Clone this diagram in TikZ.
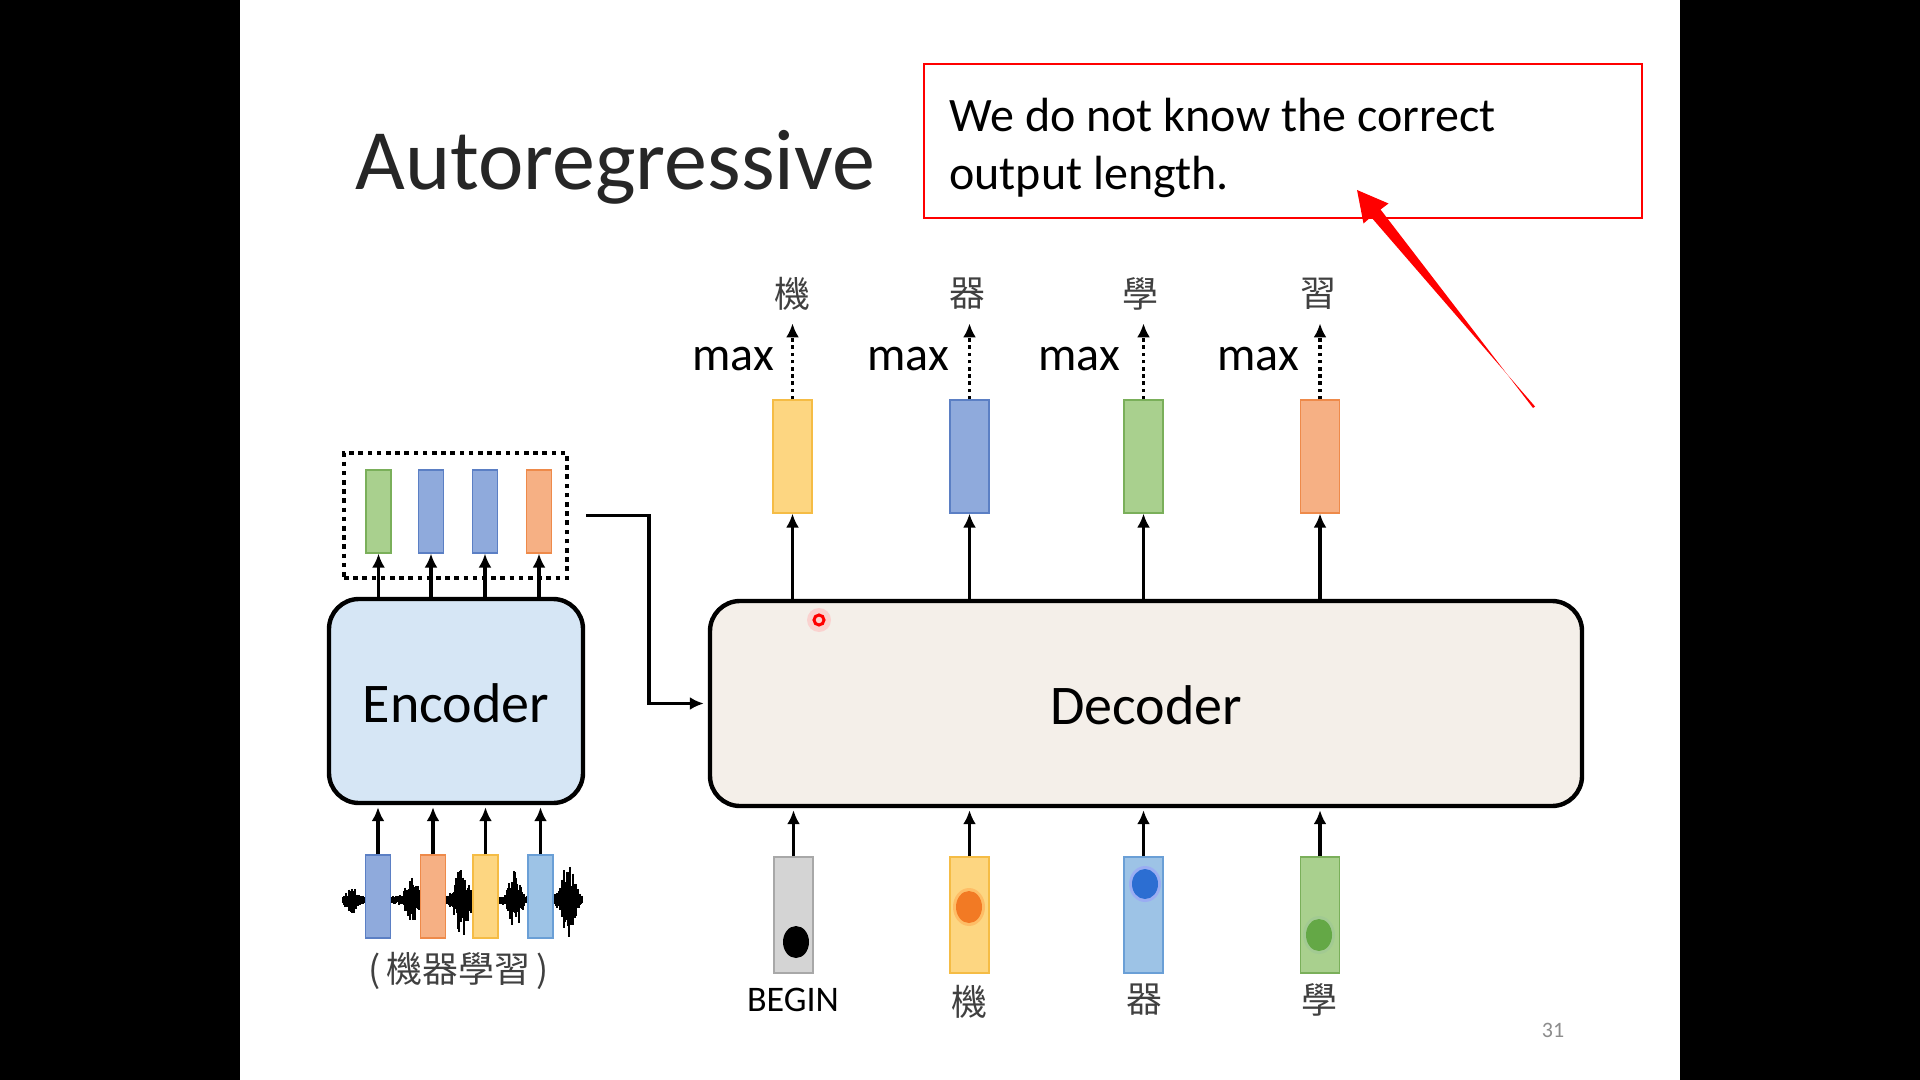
\documentclass[tikz,border=0pt]{standalone}
\usepackage{fontspec}
\setmainfont{Carlito}
\newfontfamily\cjk{Noto Sans CJK TC}
\usetikzlibrary{arrows.meta}
\definecolor{cyel}{HTML}{FDD681}\definecolor{cyelD}{HTML}{F5BC45}
\definecolor{cblu}{HTML}{8FAADC}\definecolor{cbluD}{HTML}{5B7FC4}
\definecolor{cgrn}{HTML}{A9D08E}\definecolor{cgrnD}{HTML}{7AAF5A}
\definecolor{cora}{HTML}{F6B084}\definecolor{coraD}{HTML}{EE8A4A}
\definecolor{clbl}{HTML}{9DC3E6}\definecolor{clblD}{HTML}{6A9FD6}
\definecolor{cgry}{HTML}{D4D4D4}\definecolor{cgryD}{HTML}{A8A8A8}
\definecolor{encfill}{HTML}{D6E6F5}
\definecolor{decfill}{HTML}{F4EFE9}
\definecolor{cjkgray}{HTML}{404040}
\tikzset{
  arr/.style={line width=1.9pt,-{Latex[length=7pt,width=6.5pt]}},
  darr/.style={line width=1.8pt,dash pattern=on 1.8pt off 1.8pt,-{Latex[length=7pt,width=6.5pt]}},
  bar/.style={rectangle,inner sep=0pt,line width=0.6pt},
  obar/.style={bar,minimum width=19.5pt,minimum height=56.5pt},
  ibar/.style={bar,minimum width=19.5pt,minimum height=58pt},
  ebar/.style={bar,minimum width=12.5pt,minimum height=41.5pt},
  coder/.style={rectangle,rounded corners=15pt,line width=2.2pt,draw=black,inner sep=0pt},
  maxlbl/.style={anchor=base east,font=\fontsize{24}{28}\selectfont},
  cjklbl/.style={font=\cjk\fontsize{18}{22}\selectfont,text=cjkgray},
  dot/.style={line width=0pt},
}
\begin{document}
\begin{tikzpicture}[x=0.5pt,y=-0.5pt]
\useasboundingbox (0,0) rectangle (1920,1080);
\fill[white] (0,0) rectangle (1920,1080);
\fill[black] (0,0) rectangle (240,1080);
\fill[black] (1680,0) rectangle (1920,1080);

% title
\node[anchor=base west,font=\fontsize{43}{50}\selectfont,text=black!85,inner sep=0pt] (title) at (355,190) {Autoregressive};

% note box
\node[draw=red,line width=1pt,minimum width=359pt,minimum height=77pt,inner sep=0pt] (notebox) at (1283,141) {};
\node[anchor=base west,font=\fontsize{24}{28}\selectfont,inner sep=0pt] (note1) at (949,132) {We do not know the correct};
\node[anchor=base west,font=\fontsize{24}{28}\selectfont,inner sep=0pt] (note2) at (949,190) {output length.};
\coordinate (rtail) at (1533,408);
\coordinate (rtip) at (1357,190);
\fill[red] (rtail) -- (1380.5,209.5) -- (1388.5,203.5) -- (rtip) -- (1363.5,223.5) -- (1371.0,217.0) -- (1535,406.5) -- cycle;

% decoder and encoder
\node[coder,fill=decfill,minimum width=436pt,minimum height=102.5pt] (dec) at (1146,703.5) {};
\node[font=\fontsize{28}{32}\selectfont] (dectext) at (1146,705) {Decoder};
\node[coder,fill=encfill,minimum width=127pt,minimum height=102pt] (enc) at (456,701) {};
\node[font=\fontsize{28}{32}\selectfont] (enctext) at (456,703) {Encoder};

% encoder output
\node[draw=black,line width=2.3pt,dash pattern=on 2.3pt off 2.3pt,minimum width=111.5pt,minimum height=62.5pt,inner sep=0pt] (dotbox) at (455.5,515.5) {};
\node[ebar,fill=cgrn,draw=cgrnD] (eo1) at (378.5,511.5) {};
\node[ebar,fill=cblu,draw=cbluD] (eo2) at (431,511.5) {};
\node[ebar,fill=cblu,draw=cbluD] (eo3) at (485,511.5) {};
\node[ebar,fill=cora,draw=coraD] (eo4) at (539,511.5) {};
\foreach \i in {1,...,4}{
  \draw[arr] (enc.north -| eo\i.south) -- (eo\i.south);
}
\draw[arr,shorten >=2pt] ([xshift=8.5pt]dotbox.east) -- ++(63,0) |- (dec.west);

% waveform
\pgfmathsetseed{12}
\foreach \x in {343,344,...,582}{
  \pgfmathsetmacro\a{4+34*(0.3*exp(-min(((\x-352)/6)^2,9))+0.55*exp(-min(((\x-412)/8)^2,9))+exp(-min(((\x-462)/8)^2,9))+0.8*exp(-min(((\x-515)/7)^2,9))+exp(-min(((\x-568)/8)^2,9)))}
  \pgfmathsetmacro\r{0.3+0.7*rnd}
  \pgfmathsetmacro\s{0.3+0.7*rnd}
  \draw[line width=0.75pt] (\x,{900-\a*\r}) -- (\x,{900+\a*\s});
}
\draw[line width=1pt] (343,900) -- (582,900);

% encoder input
\node[ebar,fill=cblu,draw=cbluD] (ei1) at (378,896.5) {};
\node[ebar,fill=cora,draw=coraD] (ei2) at (433,896.5) {};
\node[ebar,fill=cyel,draw=cyelD] (ei3) at (485.5,896.5) {};
\node[ebar,fill=clbl,draw=clblD] (ei4) at (540.5,896.5) {};
\foreach \i in {1,...,4}{
  \draw[arr,shorten >=1pt] (ei\i.north) -- (enc.south -| ei\i.north);
}
\node[font=\cjk\fontsize{18}{22}\selectfont,text=cjkgray] (srclbl) at (459,971) {(\,機器學習\,)};

% decoder outputs
\node[obar,fill=cyel,draw=cyelD] (o1) at (792.5,456.5) {};
\node[obar,fill=cblu,draw=cbluD] (o2) at (969.5,456.5) {};
\node[obar,fill=cgrn,draw=cgrnD] (o3) at (1143.5,456.5) {};
\node[obar,fill=cora,draw=coraD] (o4) at (1320,456.5) {};
\foreach \i in {1,...,4}{
  \draw[arr] (dec.north -| o\i.south) -- (o\i.south);
  \coordinate (t\i) at ([yshift=38pt]o\i.north);
  \draw[darr] (o\i.north) -- (t\i);
}
\node[maxlbl] (m1) at (781,371) {max};
\node[maxlbl] (m2) at (956,371) {max};
\node[maxlbl] (m3) at (1127,371) {max};
\node[maxlbl] (m4) at (1306,371) {max};
\node[cjklbl] (c1) at (792,294) {機};
\node[cjklbl] (c2) at (967,294) {器};
\node[cjklbl] (c3) at (1140,294) {學};
\node[cjklbl] (c4) at (1318,294) {習};

% decoder inputs
\node[ibar,fill=cgry,draw=cgryD] (i1) at (793.5,915) {};
\node[ibar,fill=cyel,draw=cyelD] (i2) at (969.5,915) {};
\node[ibar,fill=clbl,draw=clblD] (i3) at (1143.5,915) {};
\node[ibar,fill=cgrn,draw=cgrnD] (i4) at (1320,915) {};
\foreach \i in {1,...,4}{
  \draw[arr,shorten >=1pt] (i\i.north) -- (dec.south -| i\i.north);
}
\fill[black] (796,942) circle[x radius=6.5pt,y radius=8pt];
\fill[orange!70,opacity=0.5] (969,907) circle[x radius=8pt,y radius=9.5pt];
\fill[color={rgb,255:red,242;green,122;blue,36}] (969,907) circle[x radius=6.5pt,y radius=8pt];
\fill[blue!40,opacity=0.5] (1145,884) circle[x radius=8pt,y radius=9pt];
\fill[color={rgb,255:red,44;green,110;blue,210}] (1145,884) circle[x radius=6.5pt,y radius=7.5pt];
\fill[green!40!black!40,opacity=0.4] (1319,935) circle[x radius=8pt,y radius=9.5pt];
\fill[color={rgb,255:red,100;green,168;blue,70}] (1319,935) circle[x radius=6.5pt,y radius=8pt];
\node[font=\fontsize{18}{22}\selectfont] (b1) at (793,1000) {BEGIN};
\node[cjklbl] (b2) at (969,1002) {機};
\node[cjklbl] (b3) at (1144,1000) {器};
\node[cjklbl] (b4) at (1319,1000) {學};

% page number and cursor
\node[font=\fontsize{11}{13}\selectfont,text=black!45] (page) at (1553,1030) {31};
\fill[red!25,opacity=0.6] (819,620) circle[radius=6pt];
\draw[red,line width=1.5pt] (819,620) circle[radius=2.5pt];
\end{tikzpicture}
\end{document}
